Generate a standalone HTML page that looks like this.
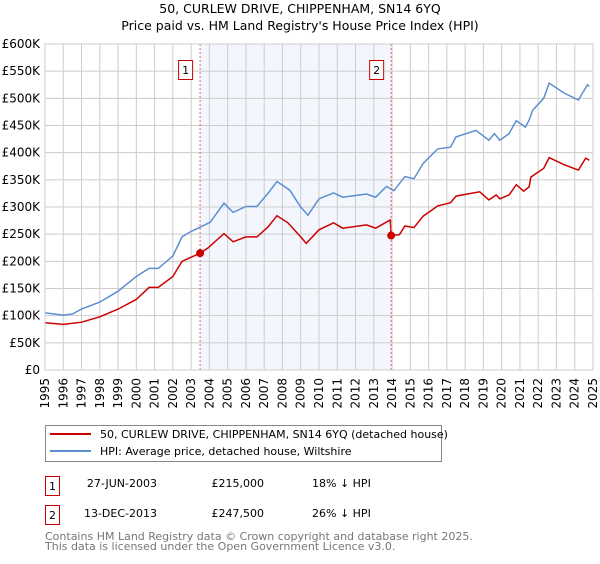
<!DOCTYPE html>
<html><head><meta charset="utf-8"><style>
body{margin:0;background:#fff;font-family:"DejaVu Sans","Liberation Sans",sans-serif;}
svg text{font-family:"DejaVu Sans","Liberation Sans",sans-serif;}
</style></head><body>
<svg id="c" width="600" height="560" xmlns="http://www.w3.org/2000/svg">
<text x="300" y="13" text-anchor="middle" font-size="12.5">50, CURLEW DRIVE, CHIPPENHAM, SN14 6YQ</text>
<text x="300" y="30" text-anchor="middle" font-size="12.5">Price paid vs. HM Land Registry's House Price Index (HPI)</text>
<g id="grid"></g><g id="series"></g>
<g>
<rect x="45.5" y="425.5" width="396" height="36" fill="#fff" stroke="#888"/>
<line x1="50" y1="434" x2="91" y2="434" stroke="#cc0000" stroke-width="2"/>
<text x="100" y="438" font-size="11">50, CURLEW DRIVE, CHIPPENHAM, SN14 6YQ (detached house)</text>
<line x1="50" y1="451" x2="91" y2="451" stroke="#5b8fd0" stroke-width="2"/>
<text x="100" y="455" font-size="11">HPI: Average price, detached house, Wiltshire</text>
</g>
<g font-size="11">
<rect x="45.5" y="476.5" width="14" height="19" fill="#fff" stroke="#cc0000"/><text x="52.5" y="490" text-anchor="middle">1</text>
<text x="157" y="487" text-anchor="end">27-JUN-2003</text><text x="264" y="487" text-anchor="end">£215,000</text><text x="312" y="487">18% ↓ HPI</text>
<rect x="45.5" y="505.5" width="14" height="19" fill="#fff" stroke="#cc0000"/><text x="52.5" y="519" text-anchor="middle">2</text>
<text x="157" y="517" text-anchor="end">13-DEC-2013</text><text x="264" y="517" text-anchor="end">£247,500</text><text x="312" y="517">26% ↓ HPI</text>
</g>
<text x="45" y="540" font-size="11" fill="#777">Contains HM Land Registry data © Crown copyright and database right 2025.</text>
<text x="45" y="550" font-size="11" fill="#777">This data is licensed under the Open Government Licence v3.0.</text>
</svg>
<script>
const yTicks=[0,50,100,150,200,250,300,350,400,450,500,550,600];
const years=[1995,1996,1997,1998,1999,2000,2001,2002,2003,2004,2005,2006,2007,2008,2009,2010,2011,2012,2013,2014,2015,2016,2017,2018,2019,2020,2021,2022,2023,2024,2025];
const hpiT=[1995,1996,1996.5,1997,1998,1999,2000,2000.7,2001.2,2002,2002.5,2003,2003.5,2004.05,2004.8,2005.3,2006,2006.6,2007.2,2007.7,2008.4,2009,2009.4,2010,2010.8,2011.3,2012.6,2013.1,2013.7,2014.1,2014.7,2015.2,2015.7,2016.5,2017.2,2017.5,2018.6,2019.3,2019.6,2019.9,2020.4,2020.8,2021.3,2021.5,2021.7,2022.3,2022.6,2023.4,2024.2,2024.7,2024.8];
const hpiV=[105,101,103,112,125,145,172,187,187,210,245,255,263,272,307,290,301,301,325,347,331,300,285,315,326,318,324,318,338,330,356,352,380,407,410,429,441,423,435,423,435,459,447,460,478,500,528,510,497,525,522];
const redT=[1995,1996,1997,1998,1999,2000,2000.7,2001.2,2002,2002.5,2003.49,2003.9,2004.8,2005.3,2006,2006.6,2007.2,2007.7,2008.3,2009,2009.3,2010,2010.8,2011.3,2012.6,2013.1,2013.9,2013.95,2014.4,2014.7,2015.2,2015.7,2016.5,2017.2,2017.5,2018.8,2019.3,2019.7,2019.9,2020.4,2020.8,2021.2,2021.5,2021.6,2022.3,2022.6,2023.4,2024.2,2024.6,2024.8];
const redV=[87,84,88,98,112,130,152,152,172,200,215,224,251,236,245,245,263,284,271,245,233,258,271,261,267,261,276,247.5,249,265,262,283,302,308,320,328,313,322,315,322,341,329,337,355,371,391,378,368,390,386];
const saleT=[2003.49,2013.95];
const saleV=[215,247.5];
const saleLabels=["1","2"];
const NS="http://www.w3.org/2000/svg";
const X=t=>45+(t-1995)*(548/30);
const Y=v=>370-v*(326/600);
function el(tag,attrs,parent){const e=document.createElementNS(NS,tag);for(const k in attrs)e.setAttribute(k,attrs[k]);parent.appendChild(e);return e;}
const g=document.getElementById('grid'),s=document.getElementById('series');
const shade=el('rect',{x:X(saleT[0]),y:44,width:X(saleT[1])-X(saleT[0]),height:326,fill:'#eef3fc',opacity:0.7},g);


yTicks.forEach(v=>{
 const l=el('line',{x1:45,x2:593,y1:Y(v),y2:Y(v),stroke:'#ccc'},g);
 
 
 const t=el('text',{x:40,y:Y(v)+4,'text-anchor':'end','font-size':12},g);
 
 
 t.textContent=v===0?'£0':'£'+v+'K';
});
years.forEach(yr=>{
 const l=el('line',{x1:X(yr),x2:X(yr),y1:44,y2:370,stroke:'#ccc'},g);
 
 
 const t=el('text',{x:0,y:0,'text-anchor':'end','font-size':12,transform:`translate(${X(yr)+4},378) rotate(-90)`},g);
 
 
 t.textContent=yr;
});
const pts=(T,V)=>T.map((t,i)=>X(t).toFixed(1)+','+Y(V[i]).toFixed(1)).join(' ');
const hl=el('polyline',{points:pts(hpiT,hpiV),fill:'none',stroke:'#5b8fd0','stroke-width':1.5},s);


const rl=el('polyline',{points:pts(redT,redV),fill:'none',stroke:'#cc0000','stroke-width':1.5},s);


saleT.forEach((t,i)=>{
 const vl=el('line',{x1:X(t),x2:X(t),y1:44,y2:370,stroke:'#e06666','stroke-dasharray':'2,2'},s);
 
 
 const c=el('circle',{cx:X(t),cy:Y(saleV[i]),r:4,fill:'#cc0000'},s);
 
 
 const b=el('rect',{x:X(t)-21.5,y:60.5,width:14,height:19,fill:'#fff',stroke:'#cc0000'},s);
 
 
 const tx=el('text',{x:X(t)-14.5,y:74,'text-anchor':'middle','font-size':11},s);
 
 
 tx.textContent=saleLabels[i];
});
el('rect',{x:45,y:44,width:548,height:326,fill:'none',stroke:'#ccc'},s);
</script>
</body></html>
